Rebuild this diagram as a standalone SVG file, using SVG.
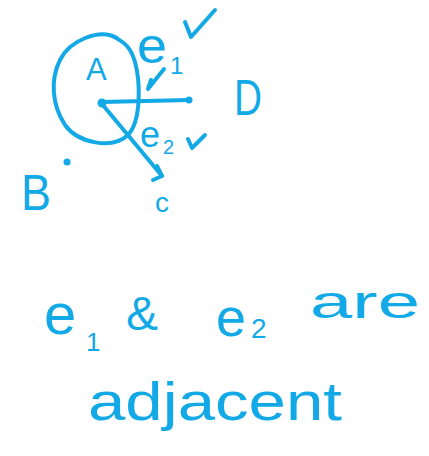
<svg xmlns="http://www.w3.org/2000/svg" width="429" height="456" viewBox="0 0 429 456">
<style>
.ink{fill:none;stroke:#12A9E6;stroke-width:4;stroke-linecap:round;stroke-linejoin:round}
.dot{fill:#12A9E6}
text{fill:#12A9E6;font-family:"Liberation Sans","DejaVu Sans",sans-serif}
</style>
<rect width="429" height="456" fill="#ffffff"/>
<g id="loop">
<path class="ink" d="M117,38 C100,28 70,40 60,60 C50,80 52,105 65,125 C78,143 112,150 128,135 C142,120 140,80 135,62 C131,48 125,42 112,36"/>
</g>
<g id="connectors">
<g id="e1">
<line class="ink" x1="102" y1="102" x2="189" y2="100"/>
<circle class="dot" cx="189" cy="100" r="3.5"/>
</g>
<g id="e2">
<line class="ink" x1="102" y1="104" x2="162" y2="176"/>
<polyline class="ink" points="157,166 162,176 153,180"/>
</g>
</g>
<g id="node-A">
<circle class="dot" cx="102" cy="103" r="4.5"/>
<text x="86" y="80" font-size="31">A</text>
</g>
<g id="node-D">
<text x="234" y="115" font-size="50" textLength="28" lengthAdjust="spacingAndGlyphs">D</text>
</g>
<g id="node-B">
<circle class="dot" cx="67" cy="162" r="3.5"/>
<text x="21" y="210" font-size="50" textLength="30" lengthAdjust="spacingAndGlyphs">B</text>
</g>
<g id="node-C">
<text x="155" y="212" font-size="28">c</text>
</g>
<g id="label-e1">
<text x="137" y="63" font-size="50" textLength="30" lengthAdjust="spacingAndGlyphs">e</text>
<text x="170" y="74" font-size="24">1</text>
<path class="ink" d="M185,22 L191,37 L215,10"/>
<path class="ink" d="M151,80 L148,89 L164,69"/>
</g>
<g id="label-e2">
<text x="140" y="147" font-size="36">e</text>
<text x="163" y="154" font-size="20">2</text>
<path class="ink" d="M188,139 L192,148 L205,135"/>
</g>
<g id="caption">
<text x="44" y="334" font-size="58">e</text>
<text x="86" y="351" font-size="26">1</text>
<text x="126" y="330" font-size="48">&amp;</text>
<text x="216" y="336" font-size="54">e</text>
<text x="251" y="338" font-size="28">2</text>
<text x="310" y="318" font-size="46" textLength="110" lengthAdjust="spacingAndGlyphs">are</text>
<text x="88" y="420" font-size="54" textLength="254" lengthAdjust="spacingAndGlyphs">adjacent</text>
</g>
</svg>
